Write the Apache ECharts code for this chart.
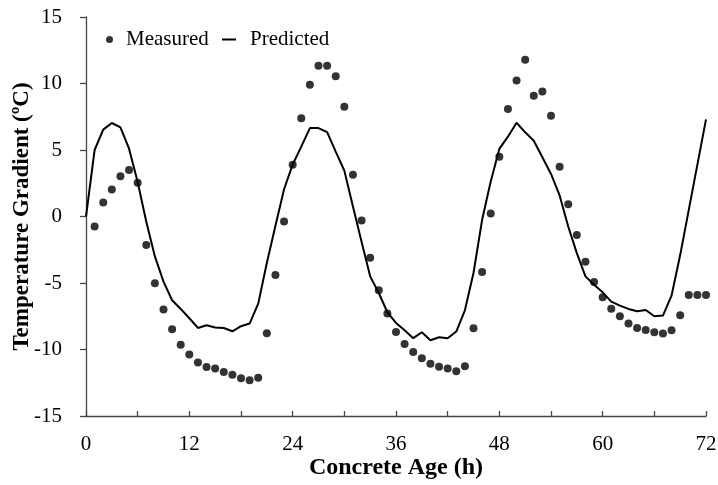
<!DOCTYPE html>
<html>
<head>
<meta charset="utf-8">
<script src="https://cdn.jsdelivr.net/npm/echarts@6/dist/echarts.min.js"></script>
<style>
html,body{margin:0;padding:0;background:#fff;overflow:hidden;}
#chart{width:718px;height:485px;}
</style>
</head>
<body>
<div id="chart"></div>
<script>
// Concrete age (h)
var predictedHours = [0,1,2,3,4,5,6,7,8,9,10,11,12,13,14,15,16,17,18,19,20,21,22,23,24,25,26,27,28,29,30,31,32,33,34,35,36,37,38,39,40,41,42,43,44,45,46,47,48,49,50,51,52,53,54,55,56,57,58,59,60,61,62,63,64,65,66,67,68,69,70,71,72];
var predictedValues = [0,5.0,6.53,7.03,6.7,5.1,2.6,-0.4,-3.0,-4.9,-6.3,-6.95,-7.65,-8.38,-8.18,-8.35,-8.38,-8.63,-8.25,-8.05,-6.55,-3.5,-0.7,2.05,3.9,5.25,6.65,6.65,6.35,4.88,3.45,0.75,-1.9,-4.5,-5.75,-7.2,-8.0,-8.55,-9.15,-8.7,-9.3,-9.08,-9.15,-8.65,-7.05,-4.25,-0.25,2.63,5.08,6.0,7.05,6.33,5.7,4.45,3.2,1.58,-0.75,-2.75,-4.5,-5.13,-5.7,-6.4,-6.7,-6.95,-7.13,-7.03,-7.5,-7.45,-5.95,-2.9,0.5,3.9,7.3];
var measuredHours = [1,2,3,4,5,6,7,8,9,10,11,12,13,14,15,16,17,18,19,20,21,22,23,24,25,26,27,28,29,30,31,32,33,34,35,36,37,38,39,40,41,42,43,44,45,46,47,48,49,50,51,52,53,54,55,56,57,58,59,60,61,62,63,64,65,66,67,68,69,70,71,72];
var measuredValues = [-0.75,1.05,2.03,3.03,3.5,2.53,-2.15,-5.02,-7.0,-8.47,-9.65,-10.37,-10.98,-11.32,-11.42,-11.7,-11.9,-12.17,-12.32,-12.13,-8.77,-4.4,-0.37,3.9,7.38,9.9,11.33,11.33,10.55,8.25,3.13,-0.3,-3.1,-5.55,-7.3,-8.68,-9.58,-10.18,-10.65,-11.07,-11.3,-11.42,-11.63,-11.25,-8.4,-4.17,0.23,4.5,8.08,10.23,11.78,9.08,9.4,7.58,3.75,0.93,-1.4,-3.4,-4.93,-6.08,-6.93,-7.5,-8.05,-8.38,-8.53,-8.7,-8.8,-8.55,-7.43,-5.9,-5.9,-5.9];
var xTicks = [0,12,24,36,48,60,72];
var yTicks = [-15,-10,-5,0,5,10,15];
var seriesNames = ['Measured','Predicted'];
var xTitle = 'Concrete Age (h)';
var yTitle = 'Temperature Gradient (\u00baC)';

var FONT = 'Liberation Serif';
var chart = echarts.init(document.getElementById('chart'), null, {renderer:'canvas', width:718, height:485});

var predData = predictedHours.map(function(h,i){return [h, predictedValues[i]];});
var measData = measuredHours.map(function(h,i){return [h, measuredValues[i]];});

chart.setOption({
  backgroundColor:'#fff',
  animation:false,
  grid:{left:86, width:620, top:17, height:399, containLabel:false, outerBoundsMode:'none'},
  legend:[
    {data:[{name:seriesNames[0], icon:'circle'}], left:106, top:29, itemWidth:7, itemHeight:7, padding:0,
     textStyle:{fontFamily:FONT, fontSize:21, color:'#000', padding:[0,0,0,8]}},
    {data:[{name:seriesNames[1], icon:'rect'}], left:222, top:29, itemWidth:14, itemHeight:2, padding:0,
     textStyle:{fontFamily:FONT, fontSize:21, color:'#000', padding:[0,0,0,9]}}
  ],
  xAxis:{
    type:'value', min:xTicks[0], max:xTicks[xTicks.length-1], interval:12,
    name:xTitle, nameLocation:'middle', nameGap:40, nameMoveOverlap:false,
    nameTextStyle:{fontFamily:FONT, fontSize:24, fontWeight:'bold', color:'#000'},
    axisLine:{show:true, onZero:false, lineStyle:{color:'#444', width:1.3}},
    axisTick:{show:true, inside:true, length:5, lineStyle:{color:'#444', width:1.3}},
    minorTick:{show:true, splitNumber:2, length:5, lineStyle:{color:'#444', width:1.3}},
    axisLabel:{fontFamily:FONT, fontSize:21, color:'#000', margin:18},
    splitLine:{show:false}
  },
  yAxis:{
    type:'value', min:yTicks[0], max:yTicks[yTicks.length-1], interval:5,
    name:yTitle, nameLocation:'middle', nameGap:52, nameMoveOverlap:false,
    nameTextStyle:{fontFamily:FONT, fontSize:23, fontWeight:'bold', color:'#000'},
    axisLine:{show:true, onZero:false, lineStyle:{color:'#444', width:1.3}},
    axisTick:{show:true, inside:false, length:6, lineStyle:{color:'#444', width:1.3}},
    axisLabel:{fontFamily:FONT, fontSize:21, color:'#000', margin:24},
    splitLine:{show:false}
  },
  series:[
    {name:seriesNames[0], type:'scatter', data:measData, symbol:'circle', symbolSize:8,
     itemStyle:{color:'#000'}, z:3},
    {name:seriesNames[1], type:'line', data:predData, showSymbol:false, symbol:'none',
     lineStyle:{color:'#000', width:2}, itemStyle:{color:'#000'}, z:2}
  ]
});
</script>
</body>
</html>
